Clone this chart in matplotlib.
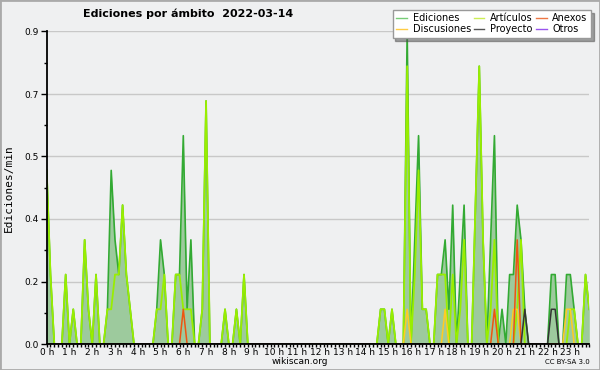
import numpy as np
import matplotlib
matplotlib.use("Agg")
from matplotlib import pyplot as plt
from matplotlib.patches import Rectangle

# edits per minute, one value per 10-minute bucket (144 buckets)
ediciones = np.zeros(144)
articulos = np.zeros(144)
anexos = np.zeros(144)
discusiones = np.zeros(144)
proyecto = np.zeros(144)
otros = np.zeros(144)

ed_vals = {0: 0.5, 1: 0.2, 5: 0.2, 7: 0.1, 10: 0.3, 11: 0.1, 13: 0.2, 16: 0.1,
           17: 0.5, 18: 0.3, 19: 0.2, 20: 0.4, 21: 0.2, 22: 0.1,
           29: 0.1, 30: 0.3, 31: 0.2, 34: 0.2, 35: 0.2, 36: 0.6, 37: 0.1, 38: 0.3,
           41: 0.1, 42: 0.7, 47: 0.1, 50: 0.1, 52: 0.2,
           88: 0.1, 89: 0.1, 91: 0.1, 95: 0.9, 97: 0.3, 98: 0.6, 99: 0.1, 100: 0.1,
           103: 0.2, 104: 0.2, 105: 0.3, 106: 0.1, 107: 0.4, 109: 0.2, 110: 0.4,
           113: 0.4, 114: 0.8, 115: 0.3, 117: 0.3, 118: 0.6, 120: 0.1,
           122: 0.2, 123: 0.2, 124: 0.4, 125: 0.3, 126: 0.1,
           133: 0.2, 134: 0.2, 137: 0.2, 138: 0.2, 139: 0.1, 142: 0.2, 143: 0.1}
art_vals = {0: 0.5, 1: 0.2, 5: 0.2, 7: 0.1, 10: 0.3, 11: 0.1, 13: 0.2, 16: 0.1,
            17: 0.1, 18: 0.2, 19: 0.2, 20: 0.4, 21: 0.2, 22: 0.1,
            29: 0.1, 30: 0.1, 31: 0.2, 34: 0.2, 35: 0.2, 36: 0.1, 37: 0.1, 38: 0.1,
            41: 0.1, 42: 0.7, 47: 0.1, 50: 0.1, 52: 0.2,
            88: 0.1, 89: 0.1, 91: 0.1, 95: 0.8, 97: 0.2, 98: 0.5, 99: 0.1, 100: 0.1,
            103: 0.2, 104: 0.2, 105: 0.2, 107: 0.2, 109: 0.1, 110: 0.3,
            113: 0.4, 114: 0.8, 115: 0.3, 117: 0.1, 118: 0.3,
            124: 0.1, 125: 0.3, 138: 0.1, 139: 0.1, 142: 0.2, 143: 0.1}
anx_vals = {36: 0.1, 118: 0.1, 124: 0.3}
dis_vals = {95: 0.1, 105: 0.1, 123: 0.1, 124: 0.1, 137: 0.1, 138: 0.1}
pro_vals = {126: 0.1, 133: 0.1, 134: 0.1}

for arr, vals in [(ediciones, ed_vals), (articulos, art_vals), (anexos, anx_vals),
                  (discusiones, dis_vals), (proyecto, pro_vals)]:
    for k, v in vals.items():
        arr[k] = v

x = np.arange(144)
hour_labels = ["%d h" % h for h in range(24)]

bg = "#eff0f1"
fig = plt.figure(figsize=(6, 3.7), dpi=100, facecolor=bg)
ax = fig.add_axes([46.7 / 600, 26 / 370, 542.6 / 600, 312.5 / 370])
ax.set_facecolor(bg)

ax.fill_between(x, 0, ediciones, color="#9dca9d", lw=0, zorder=2)
ax.plot(x, ediciones, color="#33aa33", lw=1.2, zorder=3)
ax.plot(x, articulos, color="#99ee00", lw=1.3, zorder=4)
ax.plot(x, discusiones, color="#ffcc22", lw=1.1, zorder=5)
ax.plot(x, anexos, color="#ee5511", lw=1.1, zorder=5)
ax.plot(x, proyecto, color="#333333", lw=1.1, zorder=5)
ax.plot(x, otros, color="#9944ee", lw=1.1, zorder=1)

ax.set_xlim(0, 143)
ax.set_ylim(0, 0.9)
yt = np.linspace(0, 0.9, 6)
ax.set_yticks(yt)
ax.set_yticklabels(["%.1f" % v for v in yt])
ax.set_yticks(np.linspace(0.09, 0.81, 5), minor=True)
ax.set_xticks(np.arange(0, 144, 6))
ax.set_xticklabels(hour_labels)
ax.set_xticks(np.arange(0, 144, 1), minor=True)
ax.tick_params(axis="y", which="major", direction="out", length=4.5, width=1,
               labelsize=6.5, pad=1)
ax.tick_params(axis="y", which="minor", direction="out", length=2.2, width=1)
ax.tick_params(axis="x", which="major", direction="out", length=2.5, width=1,
               labelsize=6.5, pad=0.5)
ax.tick_params(axis="x", which="minor", direction="out", length=2.5, width=1)
ax.grid(axis="y", which="major", color="#c8c8c8", lw=1, zorder=0)
ax.set_axisbelow(True)
for s in ["top", "right"]:
    ax.spines[s].set_visible(False)
for s in ["left", "bottom"]:
    ax.spines[s].set_linewidth(1.3)
    ax.spines[s].set_zorder(6)
ax.set_ylabel("Ediciones/min", fontsize=8, family="DejaVu Sans Mono", labelpad=8)

# legend
handles = [
    plt.Line2D([], [], color="#77cc77", lw=1),
    plt.Line2D([], [], color="#ffcc44", lw=1),
    plt.Line2D([], [], color="#ccee55", lw=1),
    plt.Line2D([], [], color="#555555", lw=1),
    plt.Line2D([], [], color="#ee7744", lw=1),
    plt.Line2D([], [], color="#9955ee", lw=1),
]
labels = ["Ediciones", "Discusiones", "Artículos", "Proyecto", "Anexos", "Otros"]
leg = fig.legend(handles, labels, ncol=3, loc="upper right",
                 bbox_to_anchor=(591 / 600, 1 - 10 / 370), fontsize=7,
                 frameon=True, fancybox=False, shadow=True, borderpad=0.35,
                 handlelength=1.1, handletextpad=0.6, columnspacing=0.3,
                 labelspacing=0.1, borderaxespad=0)
leg.get_frame().set_edgecolor("#999999")
leg.get_frame().set_facecolor("white")
leg.get_frame().set_linewidth(1)

fig.text(188 / 600, 1 - 14 / 370, "Ediciones por ámbito  2022-03-14",
         ha="center", va="center", fontsize=8, fontweight="bold")
fig.text(300 / 600, 1 - 362 / 370, "wikiscan.org", ha="center", va="center",
         fontsize=6.5)
fig.text(590 / 600, 1 - 362 / 370, "CC BY-SA 3.0", ha="right", va="center",
         fontsize=5)

fig.patches.append(Rectangle((0, 0), 1, 1, transform=fig.transFigure,
                             fill=False, edgecolor="#aaaaaa", lw=2))

fig.savefig("out.png", dpi=100, facecolor=bg)
